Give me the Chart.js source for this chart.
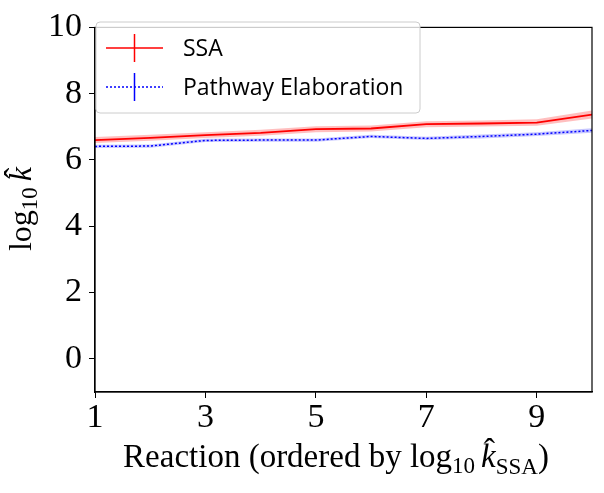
<!DOCTYPE html>
<html>
<head>
<meta charset="utf-8">
<script src="https://cdn.jsdelivr.net/npm/chart.js@4.4.1/dist/chart.umd.min.js"></script>
<style>
  html, body { margin: 0; padding: 0; background: #fff; }
  #wrap { width: 604px; height: 493px; position: relative; }
</style>
</head>
<body>
<div id="wrap"><canvas id="rateChart"></canvas></div>
<script>
// Datos
const reactions = [1, 2, 3, 4, 5, 6, 7, 8, 9, 10];
const ssaMean = [6.60, 6.67, 6.75, 6.82, 6.93, 6.95, 7.08, 7.10, 7.13, 7.37];
const ssaErr  = [0.09, 0.09, 0.09, 0.09, 0.09, 0.09, 0.09, 0.09, 0.10, 0.12];
const peMean  = [6.41, 6.42, 6.59, 6.60, 6.60, 6.71, 6.65, 6.71, 6.78, 6.89];
const peErr   = [0.05, 0.05, 0.05, 0.05, 0.05, 0.05, 0.05, 0.06, 0.06, 0.07];
const xTicks = [1, 3, 5, 7, 9];
const yTicks = [0, 2, 4, 6, 8, 10];
const seriesNames = ['SSA', 'Pathway Elaboration'];

const SERIF = '"Liberation Serif", "DejaVu Serif", serif';

function pts(values) {
    return reactions.map((x, i) => ({ x: x, y: values[i] }));
}

// Dibuja texto con subíndices, segmento por segmento
function drawMath(ctx, segs, x, y, align) {
    let total = 0;
    segs.forEach(s => { ctx.font = s.font; total += ctx.measureText(s.t).width + (s.gap || 0); });
    let cx = align === 'center' ? x - total / 2 : x;
    segs.forEach(s => {
        ctx.font = s.font;
        const w = ctx.measureText(s.t).width;
        ctx.fillText(s.t, cx, y + (s.dy || 0));
        if (s.hat) {
            ctx.font = s.hatFont;
            const hw = ctx.measureText('ˆ').width;
            ctx.fillText('ˆ', cx + w / 2 - hw / 2 + 1, y + s.hatDy);
        }
        cx += w + (s.gap || 0);
    });
}

const decor = {
    id: 'decor',
    afterDraw(chart) {
        const { ctx, chartArea: a } = chart;
        ctx.save();

        // marco
        ctx.strokeStyle = '#000';
        ctx.lineWidth = 1.2;
        ctx.strokeRect(a.left, a.top, a.right - a.left, a.bottom - a.top);

        // leyenda
        const lx = 96, ly = 22, lw = 324, lh = 91;
        ctx.beginPath();
        ctx.roundRect(lx, ly, lw, lh, 4);
        ctx.fillStyle = 'rgba(255,255,255,0.8)';
        ctx.fill();
        ctx.strokeStyle = '#cccccc';
        ctx.lineWidth = 1;
        ctx.stroke();

        const rows = [
            { y: 48, color: 'red', dash: [] },
            { y: 87, color: 'blue', dash: [2, 2] }
        ];
        rows.forEach((r, i) => {
            ctx.strokeStyle = r.color;
            ctx.lineWidth = 1.5;
            ctx.setLineDash(r.dash);
            ctx.beginPath();
            ctx.moveTo(106, r.y);
            ctx.lineTo(163, r.y);
            ctx.stroke();
            ctx.setLineDash([]);
            ctx.beginPath();
            ctx.moveTo(134.5, r.y - 14);
            ctx.lineTo(134.5, r.y + 14);
            ctx.stroke();
            ctx.fillStyle = '#000';
            ctx.font = '23px "Open Sans", sans-serif';
            ctx.textBaseline = 'middle';
            ctx.textAlign = 'left';
            ctx.fillText(seriesNames[i], 183, r.y + 1);
        });

        // título eje x
        ctx.fillStyle = '#000';
        ctx.textBaseline = 'alphabetic';
        ctx.textAlign = 'left';
        const big = '33px ' + SERIF, small = '23px ' + SERIF;
        drawMath(ctx, [
            { t: 'Reaction (ordered by ', font: big },
            { t: 'log', font: big },
            { t: '10', font: small, dy: 6, gap: 6 },
            { t: 'k', font: 'italic ' + big, hat: true, hatFont: big, hatDy: -5 },
            { t: 'SSA', font: small, dy: 7 },
            { t: ')', font: big }
        ], 336, 467, 'center');

        // título eje y
        ctx.translate(31, 209);
        ctx.rotate(-Math.PI / 2);
        const bigY = '32px ' + SERIF, smallY = '23px ' + SERIF;
        drawMath(ctx, [
            { t: 'log', font: bigY },
            { t: '10', font: smallY, dy: 6, gap: 6 },
            { t: 'k', font: 'italic ' + bigY, hat: true, hatFont: bigY, hatDy: -5 }
        ], 0, 0, 'center');

        ctx.restore();
    }
};

function initChart() {
    const ctx = document.getElementById('rateChart').getContext('2d');
    new Chart(ctx, {
        type: 'line',
        data: {
            datasets: [
                { data: pts(ssaMean.map((v, i) => v + ssaErr[i])), borderWidth: 0, pointRadius: 0,
                  fill: '+1', backgroundColor: 'rgba(255,0,0,0.25)' },
                { data: pts(ssaMean.map((v, i) => v - ssaErr[i])), borderWidth: 0, pointRadius: 0, fill: false },
                { data: pts(peMean.map((v, i) => v + peErr[i])), borderWidth: 0, pointRadius: 0,
                  fill: '+1', backgroundColor: 'rgba(0,0,255,0.22)' },
                { data: pts(peMean.map((v, i) => v - peErr[i])), borderWidth: 0, pointRadius: 0, fill: false },
                { label: seriesNames[0], data: pts(ssaMean), borderColor: 'red', borderWidth: 1.8,
                  pointRadius: 0, fill: false },
                { label: seriesNames[1], data: pts(peMean), borderColor: 'blue', borderWidth: 1.5,
                  borderDash: [2, 2], pointRadius: 0, fill: false }
            ]
        },
        options: {
            responsive: true,
            maintainAspectRatio: false,
            animation: false,
            devicePixelRatio: 1,
            layout: { padding: { top: 22, right: 12, left: 0, bottom: 0 } },
            plugins: {
                legend: { display: false },
                tooltip: { enabled: false }
            },
            scales: {
                x: {
                    type: 'linear',
                    min: 1,
                    max: 10,
                    afterBuildTicks: s => { s.ticks = xTicks.map(v => ({ value: v })); },
                    afterFit: s => { s.height = 101; },
                    grid: { drawOnChartArea: false, drawTicks: true, tickLength: 6, color: '#000' },
                    border: { display: true, color: '#000', width: 1.2 },
                    ticks: { color: '#000', font: { family: SERIF, size: 34 }, padding: 0, maxRotation: 0 }
                },
                y: {
                    min: -1,
                    max: 10,
                    afterBuildTicks: s => { s.ticks = yTicks.map(v => ({ value: v })); },
                    afterFit: s => { s.width = 95; },
                    grid: { drawOnChartArea: false, drawTicks: true, tickLength: 6, color: '#000' },
                    border: { display: true, color: '#000', width: 1.2 },
                    ticks: { color: '#000', font: { family: SERIF, size: 34 }, padding: 7 }
                }
            }
        },
        plugins: [decor]
    });
}

document.addEventListener('DOMContentLoaded', initChart);
</script>
</body>
</html>
